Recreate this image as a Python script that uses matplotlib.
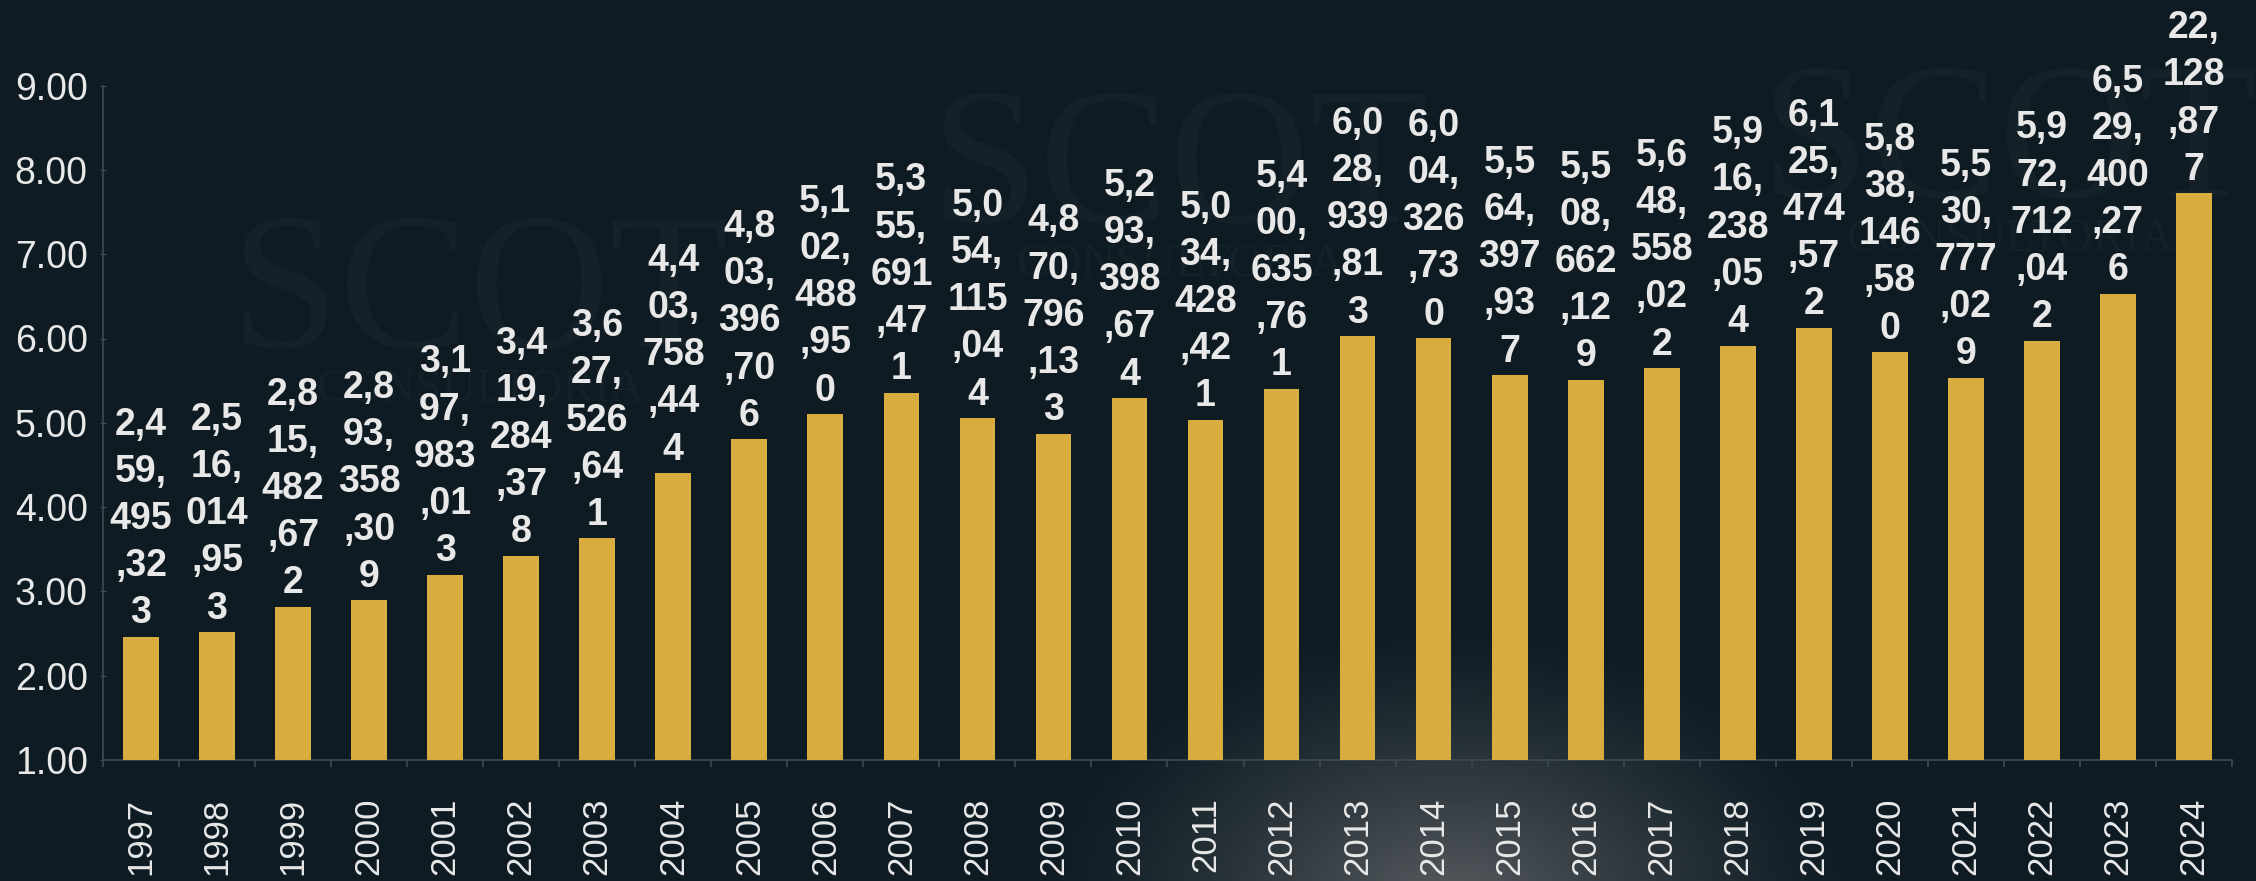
import numpy as np
import matplotlib
matplotlib.use("Agg")
import matplotlib.pyplot as plt

years = [str(y) for y in range(1997, 2025)]
values = [2459495323, 2516014953, 2815482672, 2893358309, 3197983013, 3419284378,
          3627526641, 4403758444, 4803396706, 5102488950, 5355691471, 5054115044,
          4870796133, 5293398674, 5034428421, 5400635761, 6028939813, 6004326730,
          5564397937, 5508662129, 5648558022, 5916238054, 6125474572, 5838146580,
          5530777029, 5972712042, 6529400276, 7722128877]
yticks = [1, 2, 3, 4, 5, 6, 7, 8, 9]

BG = "#0e1b23"
BAR = "#d8ac3f"
TXT = "#e8e8e8"
AX = "#3c4a52"

plt.rcParams['font.family'] = ['Liberation Sans', 'DejaVu Sans']

W, H = 2256, 881
fig = plt.figure(figsize=(W / 100, H / 100), dpi=100, facecolor=BG)

# background with soft glow and faint watermarks
bg = fig.add_axes([0, 0, 1, 1], zorder=-10)
bg.set_axis_off()
gx, gy = np.meshgrid(np.linspace(0, W, 400), np.linspace(0, H, 160))
d = np.sqrt(((gx - 1450) / 420) ** 2 + ((gy - 910) / 290) ** 2)
glow = np.clip(1 - d, 0, 1) ** 1.3
base = np.array([14, 27, 35]) / 255.0
light = np.array([88, 92, 96]) / 255.0
img = base[None, None, :] + glow[..., None] * (light - base)[None, None, :]
bg.imshow(img, extent=[0, W, H, 0], aspect='auto')
bg.set_xlim(0, W)
bg.set_ylim(H, 0)
wm = "#142129"
for (x, y) in [(480, 300), (1180, 175), (2010, 150)]:
    bg.text(x, y, "SCOT", color=wm, fontsize=140, family='Liberation Serif',
            ha='center', va='center')
    bg.text(x, y + 90, "CONSULTORIA", color=wm, fontsize=34, family='Liberation Serif',
            ha='center', va='center')

ax = fig.add_axes([103 / W, 1 - 760 / H, (2232 - 103) / W, (760 - 85.6) / H])
ax.set_facecolor('none')

x = np.arange(len(years))
heights = [v / 1e9 for v in values]
ax.bar(x, heights, width=0.47, color=BAR, zorder=3)

for xi, v, h in zip(x, values, heights):
    s = f"{v:,}"
    lab = "\n".join(s[i:i + 3] for i in range(0, len(s), 3))
    ax.annotate(lab, (xi, h), xytext=(0, 4), textcoords='offset points',
                ha='center', va='bottom', fontsize=27, fontweight='bold', color=TXT,
                linespacing=1.4, annotation_clip=False, clip_on=False)

ax.set_xlim(-0.5, len(years) - 0.5)
ax.set_ylim(1, 9)
ax.set_yticks(yticks)
ax.set_yticklabels([f"{t:.2f}" for t in yticks])
ax.set_xticks(x)
ax.set_xticklabels(years, rotation=90)
ax.set_xticks(np.arange(len(years) + 1) - 0.5, minor=True)

for sp in ['top', 'right']:
    ax.spines[sp].set_visible(False)
for sp in ['left', 'bottom']:
    ax.spines[sp].set_color(AX)
    ax.spines[sp].set_linewidth(1.2)

ax.tick_params(axis='x', which='major', length=0, pad=27, labelsize=25, labelcolor=TXT)
ax.tick_params(axis='x', which='minor', length=5, color=AX, width=1.2)
ax.tick_params(axis='y', length=4, direction='inout', color=AX, pad=9,
               labelsize=27, labelcolor=TXT)

fig.savefig("out.png", dpi=100, facecolor=BG)
